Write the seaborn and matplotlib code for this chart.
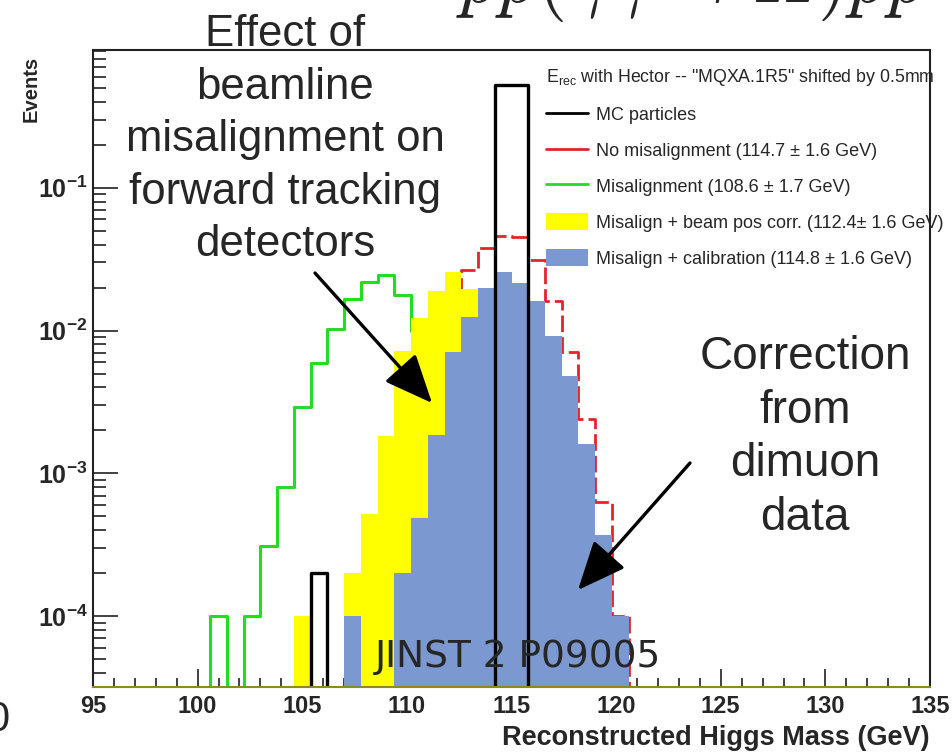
import numpy as np
import pandas as pd
import matplotlib
matplotlib.use("Agg")
import matplotlib.pyplot as plt
import seaborn as sns
from matplotlib.lines import Line2D
from matplotlib.patches import Patch
from matplotlib.ticker import LogLocator, NullFormatter, MultipleLocator

# ---------------------------------------------------------------------------
# Reconstructed Higgs mass, 0.8 GeV bins from 95 to 135 GeV.
# Per-bin event fractions are listed for the populated window 100.6-120.6 GeV
# (bins 7..31); all other bins are empty.
# ---------------------------------------------------------------------------
mass_lo, mass_hi, n_bins = 95.0, 135.0, 50
first_bin = 7

mc_particles = [0, 0, 0, 0, 0, 0, 2e-4, 0, 0, 0, 0, 0, 0, 0, 0, 0, 0,
                0.52, 0.52, 0, 0, 0, 0, 0, 0]
no_misalignment = [0, 0, 0, 0, 0, 0, 0, 0, 0, 0, 2e-4, 8e-4, 2.5e-3, 7e-3,
                   1.5e-2, 2.67e-2, 3.8e-2, 4.6e-2, 4.5e-2, 3.14e-2, 1.62e-2,
                   7.1e-3, 2.4e-3, 6.3e-4, 1e-4]
misalignment = [1e-4, 0, 1e-4, 3.1e-4, 8.1e-4, 2.9e-3, 5.9e-3, 1.02e-2,
                1.65e-2, 2.2e-2, 2.43e-2, 1.76e-2, 1.0e-2, 4.5e-3, 1.5e-3,
                4e-4, 1e-4, 0, 0, 0, 0, 0, 0, 0, 0]
beam_pos_corr = [0, 0, 0, 0, 0, 1e-4, 0, 0, 2e-4, 5.2e-4, 1.82e-3, 7.2e-3,
                 1.23e-2, 1.88e-2, 2.55e-2, 1.94e-2, 1.5e-2, 1.0e-2, 5e-3,
                 2e-3, 6e-4, 1.5e-4, 0, 0, 0]
calibration = [0, 0, 0, 0, 0, 0, 0, 0, 1e-4, 0, 0, 2e-4, 4.9e-4, 1.85e-3,
               7.1e-3, 1.25e-2, 1.98e-2, 2.59e-2, 2.14e-2, 1.6e-2, 9.1e-3,
               4.8e-3, 1.6e-3, 3.7e-4, 1e-4]

legend_title = 'E$_{\\mathrm{rec}}$ with Hector -- "MQXA.1R5" shifted by 0.5mm'
labels = {
    "mc": "MC particles",
    "nomis": "No misalignment (114.7 \u00b1 1.6 GeV)",
    "mis": "Misalignment (108.6 \u00b1 1.7 GeV)",
    "beam": "Misalign + beam pos corr. (112.4\u00b1 1.6 GeV)",
    "calib": "Misalign + calibration (114.8 \u00b1 1.6 GeV)",
}
mass_ticks = [95, 100, 105, 110, 115, 120, 125, 130, 135]
event_ticks = [1e-4, 1e-3, 1e-2, 1e-1]
event_tick_labels = [r"$\mathbf{10^{-4}}$", r"$\mathbf{10^{-3}}$",
                     r"$\mathbf{10^{-2}}$", r"$\mathbf{10^{-1}}$"]

# ---------------------------------------------------------------------------
edges = np.linspace(mass_lo, mass_hi, n_bins + 1)
centers = 0.5 * (edges[:-1] + edges[1:])
bin_edges = edges.tolist()


def full_series(window):
    vals = np.zeros(n_bins)
    vals[first_bin:first_bin + len(window)] = window
    return vals


series = {
    "mc": mc_particles,
    "nomis": no_misalignment,
    "mis": misalignment,
    "beam": beam_pos_corr,
    "calib": calibration,
}
df = pd.concat(
    [pd.DataFrame({"mass": centers, "events": full_series(v), "sample": k})
     for k, v in series.items()],
    ignore_index=True,
)

sns.set_style("ticks")
plt.rcParams["font.family"] = ["Liberation Sans", "DejaVu Sans"]
plt.rcParams["mathtext.fontset"] = "custom"
plt.rcParams["mathtext.rm"] = "Liberation Sans"
plt.rcParams["mathtext.bf"] = "Liberation Sans:bold"
plt.rcParams["mathtext.it"] = "Liberation Sans:italic"

W, H = 953, 752
fig = plt.figure(figsize=(W / 100, H / 100), dpi=100)
ax = fig.add_axes([93 / W, 1 - 687 / H, 837 / W, 637 / H])

RED = "#e5242a"
GREEN = "#22dd22"
YELLOW = "#ffff00"
BLUE = "#7b98d0"


def sub(name):
    return df[df["sample"] == name]


sns.histplot(data=sub("nomis"), x="mass", weights="events", bins=bin_edges,
             element="step", fill=False, color=RED, linewidth=2.0,
             linestyle=(0, (6, 1.8)), ax=ax, zorder=1)
sns.histplot(data=sub("mis"), x="mass", weights="events", bins=bin_edges,
             element="step", fill=False, color=GREEN, linewidth=2.2,
             ax=ax, zorder=2)
sns.histplot(data=sub("beam"), x="mass", weights="events", bins=bin_edges,
             element="step", fill=True, color=YELLOW, alpha=1, linewidth=0,
             ax=ax, zorder=3)
sns.histplot(data=sub("calib"), x="mass", weights="events", bins=bin_edges,
             element="step", fill=True, color=BLUE, alpha=1, linewidth=0,
             ax=ax, zorder=4)
sns.histplot(data=sub("mc"), x="mass", weights="events", bins=bin_edges,
             element="step", fill=False, color="black", linewidth=2.4,
             ax=ax, zorder=5)

ax.set_yscale("log")
ax.set_xlim(mass_lo, mass_hi)
ax.set_ylim(3.2e-5, 0.92)

# frame
for side in ["left", "right", "top", "bottom"]:
    ax.spines[side].set_visible(True)
    ax.spines[side].set_linewidth(1.5)
    ax.spines[side].set_color("#222222")
    ax.spines[side].set_zorder(6)
ax.spines["bottom"].set_color("#8c8c1e")

# ticks
ax.set_xticks(mass_ticks, labels=[str(t) for t in mass_ticks],
              fontsize=17, fontweight="bold")
ax.xaxis.set_minor_locator(MultipleLocator(1))
ax.set_yticks(event_ticks, labels=event_tick_labels, fontsize=18)
ax.yaxis.set_minor_locator(LogLocator(base=10, subs=np.arange(2, 10)))
ax.yaxis.set_minor_formatter(NullFormatter())
ax.tick_params(axis="x", which="major", direction="in", length=13, width=1.3,
               color="#333333", pad=6, top=False)
ax.tick_params(axis="x", which="minor", direction="in", length=6.5, width=1.3,
               color="#333333", top=False)
ax.tick_params(axis="y", which="major", direction="in", length=18, width=1.3,
               color="#333333", pad=4, right=False)
ax.tick_params(axis="y", which="minor", direction="in", length=9.5, width=1.3,
               color="#333333", right=False)

ax.set_xlabel("Reconstructed Higgs Mass (GeV)", fontsize=19.5,
              fontweight="bold", loc="right")
ax.xaxis.set_label_coords(1.0, -0.06)
ax.set_ylabel("Events", fontsize=14.5, fontweight="bold", loc="top")
ax.yaxis.set_label_coords(-0.063, 0.99)

# legend
handles = [
    Line2D([], [], color="black", lw=2),
    Line2D([], [], color=RED, lw=2),
    Line2D([], [], color=GREEN, lw=2),
    Patch(facecolor=YELLOW, edgecolor="none"),
    Patch(facecolor=BLUE, edgecolor="none"),
]
leg = ax.legend(handles, list(labels.values()), title=legend_title,
                loc="upper left", bbox_to_anchor=(546 / W, 1 - 67 / H),
                bbox_transform=fig.transFigure, frameon=False,
                alignment="left", fontsize=13, title_fontsize=12.8,
                handlelength=2.3, handleheight=1.1, handletextpad=0.45,
                labelspacing=0.95, borderpad=0, borderaxespad=0)
leg.set_zorder(7)

# annotations
slide_font = ["Liberation Sans", "DejaVu Sans"]
fig.text(285 / W, 1 - 14 / H,
         "Effect of\nbeamline\nmisalignment on\nforward tracking\ndetectors",
         ha="center", va="top", fontsize=31.5, family=slide_font,
         linespacing=1.36, zorder=10)
fig.text(805 / W, 1 - 335 / H, "Correction\nfrom\ndimuon\ndata",
         ha="center", va="top", fontsize=33, family=slide_font,
         linespacing=1.28, zorder=10)
fig.text(375 / W, 1 - 667 / H, "JINST 2 P09005", ha="left", va="baseline",
         fontsize=27, family=["DejaVu Sans"], zorder=10)
fig.text(927 / W, 1 - 2 / H, r"$pp(\gamma\gamma \rightarrow H)pp$",
         ha="right", va="baseline", fontsize=56, math_fontfamily="cm",
         zorder=10)
fig.text(9 / W, 1 - 720 / H, "0", ha="right", va="center", fontsize=30,
         family=slide_font)

arrow_kw = dict(arrowstyle="-|>,head_length=1.5,head_width=0.65",
                mutation_scale=20, lw=2.4, color="black",
                shrinkA=0, shrinkB=0)
ax.annotate("", xy=(432, H - 403), xycoords="figure pixels",
            xytext=(315, H - 273), textcoords="figure pixels",
            arrowprops=arrow_kw, zorder=10)
ax.annotate("", xy=(578, H - 590), xycoords="figure pixels",
            xytext=(690, H - 463), textcoords="figure pixels",
            arrowprops=arrow_kw, zorder=10)

fig.savefig("out.png", dpi=100)
